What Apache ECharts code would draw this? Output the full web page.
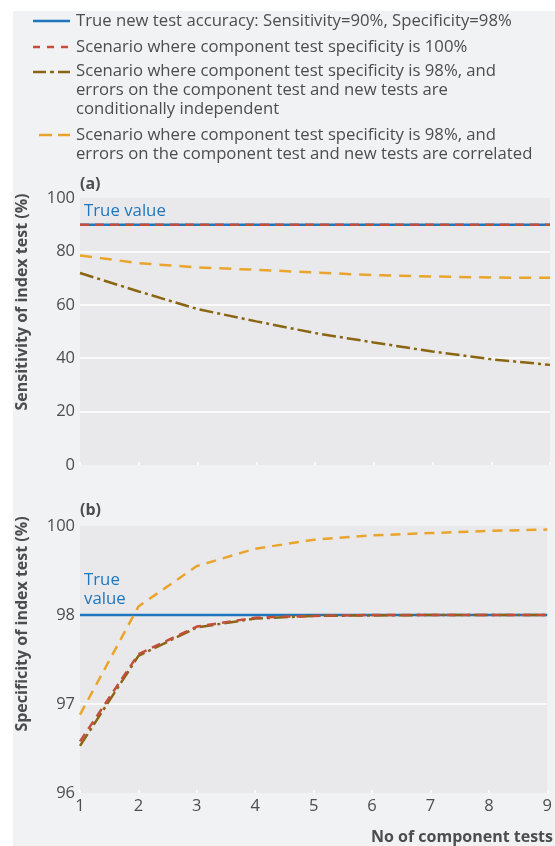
<!DOCTYPE html>
<html>
<head>
<meta charset="utf-8">
<script src="https://cdn.jsdelivr.net/npm/echarts@6.0.0/dist/echarts.min.js"></script>
<style>
  html, body { margin: 0; padding: 0; background: #ffffff; }
  #panel { position: absolute; left: 13px; top: 11px; width: 542px; height: 835px; background: #f1f2f4; }
  #chart { position: absolute; left: 0; top: 0; width: 555px; height: 846px; }
</style>
</head>
<body>
<div id="panel"></div>
<div id="chart"></div>
<script>
// ---- Data ----
const components = [1, 2, 3, 4, 5, 6, 7, 8, 9];

// Panel (a): sensitivity of index test (%)
const sensTrue    = [90, 90, 90, 90, 90, 90, 90, 90, 90];
const sensSpec100 = [90, 90, 90, 90, 90, 90, 90, 90, 90];
const sensIndep   = [71.9, 65.0, 58.4, 53.8, 49.4, 45.9, 42.5, 39.6, 37.5];
const sensCorr    = [78.5, 75.6, 74.0, 73.1, 72.1, 71.1, 70.6, 70.2, 70.1];

// Panel (b): specificity of index test (%)
const specTrue    = [98, 98, 98, 98, 98, 98, 98, 98, 98];
const specSpec100 = [96.58, 97.56, 97.87, 97.97, 97.99, 98.0, 98.0, 98.0, 98.0];
const specIndep   = [96.53, 97.54, 97.86, 97.96, 97.99, 97.995, 98.0, 98.0, 98.0];
const specCorr    = [96.88, 98.19, 99.1, 99.49, 99.69, 99.79, 99.84, 99.89, 99.92];

const sensTicks = [0, 20, 40, 60, 80, 100];
const specTicks = [96, 97, 98, 100];

// Specificity axis: 98–100 compressed to half scale (as in the original figure)
const specT = v => (v <= 98 ? v : 98 + (v - 98) / 2);
const specInv = u => (u <= 98 ? u : 98 + (u - 98) * 2);

const pair = (ys, f) => components.map((x, i) => [x, f ? f(ys[i]) : ys[i]]);

const FONT = '"Open Sans"';
const BLUE = '#1f76bd', RED = '#c24f3b', BROWN = '#8a6512', YELLOW = '#e9a52b';
const LABEL = '#4d4d4f';
const LEG = '16.7px ' + FONT;

function mkLine(name, data, xi, color, type, width) {
  return {
    name, type: 'line', xAxisIndex: xi, yAxisIndex: xi, data,
    symbol: 'none', silent: true, animation: false,
    lineStyle: { color, width, type }
  };
}

const xAxisBase = (showLabel) => ({
  type: 'value', min: 1, max: 9, interval: 1,
  axisLine: { show: false },
  axisTick: { show: true, inside: true, length: 3, lineStyle: { color: '#ffffff', width: 1.5 } },
  splitLine: { show: false },
  axisLabel: { show: showLabel, color: LABEL, fontFamily: FONT, fontSize: 16.5, margin: 5 }
});

const splitLine = { show: true, showMinLine: false, showMaxLine: false, lineStyle: { color: '#ffffff', width: 1.5 } };

const option = {
  backgroundColor: 'transparent',
  animation: false,
  grid: [
    { left: 80, right: 5, top: 198, height: 267, show: true, backgroundColor: '#e9e9ec', borderWidth: 0 },
    { left: 80, right: 5, top: 526, height: 267, show: true, backgroundColor: '#e9e9ec', borderWidth: 0 }
  ],
  xAxis: [
    Object.assign(xAxisBase(false), { gridIndex: 0 }),
    Object.assign(xAxisBase(true), { gridIndex: 1 })
  ],
  yAxis: [
    {
      gridIndex: 0, type: 'value', min: sensTicks[0], max: sensTicks[sensTicks.length - 1], interval: 20,
      axisLine: { show: false }, axisTick: { show: false }, splitLine,
      axisLabel: { color: LABEL, fontFamily: FONT, fontSize: 16.5, margin: 5 }
    },
    {
      gridIndex: 1, type: 'value', min: specT(specTicks[0]), max: specT(specTicks[specTicks.length - 1]), interval: 1,
      axisLine: { show: false }, axisTick: { show: false }, splitLine,
      axisLabel: { color: LABEL, fontFamily: FONT, fontSize: 16.5, margin: 5,
        formatter: u => String(Math.round(specInv(u))) }
    }
  ],
  series: [
    mkLine('True (a)', pair(sensTrue), 0, BLUE, 'solid', 2.5),
    mkLine('Indep (a)', pair(sensIndep), 0, BROWN, [14, 4, 3, 4], 2.5),
    mkLine('Spec100 (a)', pair(sensSpec100), 0, RED, [9, 6], 2.5),
    mkLine('Corr (a)', pair(sensCorr), 0, YELLOW, [12, 8], 2.5),
    mkLine('True (b)', pair(specTrue, specT), 1, BLUE, 'solid', 2.5),
    mkLine('Indep (b)', pair(specIndep, specT), 1, BROWN, [14, 4, 3, 4], 2.5),
    mkLine('Spec100 (b)', pair(specSpec100, specT), 1, RED, [9, 6], 2.5),
    mkLine('Corr (b)', pair(specCorr, specT), 1, YELLOW, [10, 7], 2.5)
  ],
  graphic: [
    // legend samples
    { type: 'line', shape: { x1: 33, y1: 21, x2: 70, y2: 21 }, style: { stroke: BLUE, lineWidth: 2.5 } },
    { type: 'line', shape: { x1: 33, y1: 47, x2: 70, y2: 47 }, style: { stroke: RED, lineWidth: 2.5, lineDash: [7, 7] } },
    { type: 'line', shape: { x1: 33, y1: 72, x2: 70, y2: 72 }, style: { stroke: BROWN, lineWidth: 2.5, lineDash: [13, 4, 4, 4] } },
    { type: 'line', shape: { x1: 39, y1: 135, x2: 70, y2: 135 }, style: { stroke: YELLOW, lineWidth: 2.5, lineDash: [13, 6] } },
    // legend texts
    { type: 'text', x: 76, y: 21, style: { text: 'True new test accuracy: Sensitivity=90%, Specificity=98%', fill: LABEL, font: LEG, verticalAlign: 'middle' } },
    { type: 'text', x: 76, y: 47, style: { text: 'Scenario where component test specificity is 100%', fill: LABEL, font: LEG, verticalAlign: 'middle' } },
    { type: 'text', x: 76, y: 62, style: { text: 'Scenario where component test specificity is 98%, and\nerrors on the component test and new tests are\nconditionally independent', fill: LABEL, font: LEG, lineHeight: 19, verticalAlign: 'top' } },
    { type: 'text', x: 76, y: 125.5, style: { text: 'Scenario where component test specificity is 98%, and\nerrors on the component test and new tests are correlated', fill: LABEL, font: LEG, lineHeight: 19, verticalAlign: 'top' } },
    // panel labels
    { type: 'text', x: 80, y: 184, style: { text: '(a)', fill: LABEL, font: 'bold 16px ' + FONT, verticalAlign: 'middle' } },
    { type: 'text', x: 80, y: 510, style: { text: '(b)', fill: LABEL, font: 'bold 16px ' + FONT, verticalAlign: 'middle' } },
    // true value annotations
    { type: 'text', x: 84, y: 211, style: { text: 'True value', fill: BLUE, font: '16.8px ' + FONT, verticalAlign: 'middle' } },
    { type: 'text', x: 84, y: 571, style: { text: 'True\nvalue', fill: BLUE, font: '16.8px ' + FONT, lineHeight: 18.5, verticalAlign: 'top' } },
    // axis names
    { type: 'text', x: 22, y: 302, rotation: Math.PI / 2, style: { text: 'Sensitivity of index test (%)', fill: LABEL, font: 'bold 16px ' + FONT, align: 'center', verticalAlign: 'middle' } },
    { type: 'text', x: 22, y: 624, rotation: Math.PI / 2, style: { text: 'Specificity of index test (%)', fill: LABEL, font: 'bold 16px ' + FONT, align: 'center', verticalAlign: 'middle' } },
    { type: 'text', x: 553, y: 837, style: { text: 'No of component tests', fill: LABEL, font: 'bold 16px ' + FONT, align: 'right', verticalAlign: 'middle' } }
  ]
};

const chart = echarts.init(document.getElementById('chart'), null, { renderer: 'canvas' });
chart.setOption(option);
</script>
</body>
</html>
